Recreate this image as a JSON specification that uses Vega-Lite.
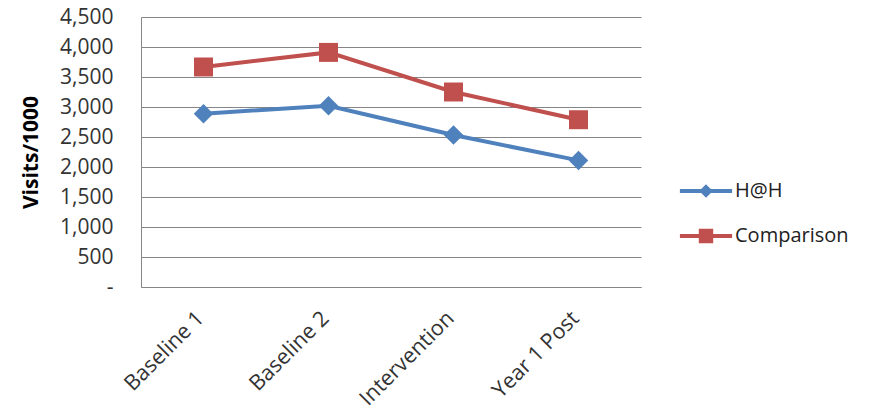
{
  "$schema": "https://vega.github.io/schema/vega-lite/v6.json",
  "autosize": "none",
  "width": 500,
  "height": 270,
  "padding": {"left": 141, "top": 17, "right": 234, "bottom": 130},
  "background": "white",
  "config": {
    "view": {"stroke": null},
    "font": "Open Sans",
    "axis": {"labelColor": "#333333", "titleColor": "#000000", "labelFont": "Open Sans", "titleFont": "Open Sans"}
  },
  "data": {
    "values": [
      {"period": "Baseline 1", "series": "H@H", "visits": 2888},
      {"period": "Baseline 2", "series": "H@H", "visits": 3022},
      {"period": "Intervention", "series": "H@H", "visits": 2533},
      {"period": "Year 1 Post", "series": "H@H", "visits": 2110},
      {"period": "Baseline 1", "series": "Comparison", "visits": 3667},
      {"period": "Baseline 2", "series": "Comparison", "visits": 3910},
      {"period": "Intervention", "series": "Comparison", "visits": 3250},
      {"period": "Year 1 Post", "series": "Comparison", "visits": 2788}
    ]
  },
  "encoding": {
    "x": {
      "field": "period", "type": "nominal", "sort": null,
      "scale": {"paddingInner": 0, "paddingOuter": 0},
      "axis": {
        "title": null, "labelAngle": -45, "labelAlign": "right", "labelBaseline": "middle",
        "labelPadding": 28, "labelOffset": -3, "labelFontSize": 21.5, "ticks": false,
        "domainColor": "#868686", "domainWidth": 1, "grid": false
      }
    },
    "y": {
      "field": "visits", "type": "quantitative",
      "scale": {"domain": [0, 4500], "nice": false},
      "axis": {
        "title": "Visits/1000", "titleFontSize": 21, "titleFontWeight": "bold", "titlePadding": 18,
        "values": [0, 500, 1000, 1500, 2000, 2500, 3000, 3500, 4000, 4500],
        "labelExpr": "datum.value === 0 ? '-\u00a0\u00a0\u00a0' : format(datum.value, ',')",
        "labelFontSize": 21, "labelPadding": 28, "ticks": false,
        "grid": true, "gridColor": "#868686", "gridWidth": 1,
        "domainColor": "#868686", "domainWidth": 1
      }
    },
    "color": {
      "field": "series", "type": "nominal",
      "scale": {"domain": ["H@H", "Comparison"], "range": ["#4F81BD", "#C0504D"]},
      "legend": {
        "title": null, "orient": "none", "legendX": 555, "legendY": 164,
        "labelFontSize": 20, "labelFont": "Open Sans", "labelColor": "#222222",
        "symbolSize": 324, "labelOffset": 19, "rowPadding": 25, "padding": 0,
        "encode": {
          "symbols": {
            "update": {
              "shape": {"signal": "datum.value === 'H@H' ? 'M-2.9,-0.22H2.9V0.22H-2.9Z M0,-0.75L0.75,0L0,0.75L-0.75,0Z' : 'M-2.9,-0.22H2.9V0.22H-2.9Z M-0.8,-0.8H0.8V0.8H-0.8Z'"},
              "fill": {"signal": "datum.value === 'H@H' ? '#4F81BD' : '#C0504D'"},
              "fillOpacity": {"value": 1},
              "strokeWidth": {"value": 0}
            }
          }
        }
      }
    }
  },
  "layer": [
    {
      "mark": {"type": "line", "strokeWidth": 4}
    },
    {
      "transform": [{"filter": "datum.series === 'H@H'"}],
      "mark": {"type": "point", "filled": true, "opacity": 1, "shape": "diamond", "size": 380}
    },
    {
      "transform": [{"filter": "datum.series === 'Comparison'"}],
      "mark": {"type": "point", "filled": true, "opacity": 1, "shape": "square", "size": 360}
    }
  ]
}
